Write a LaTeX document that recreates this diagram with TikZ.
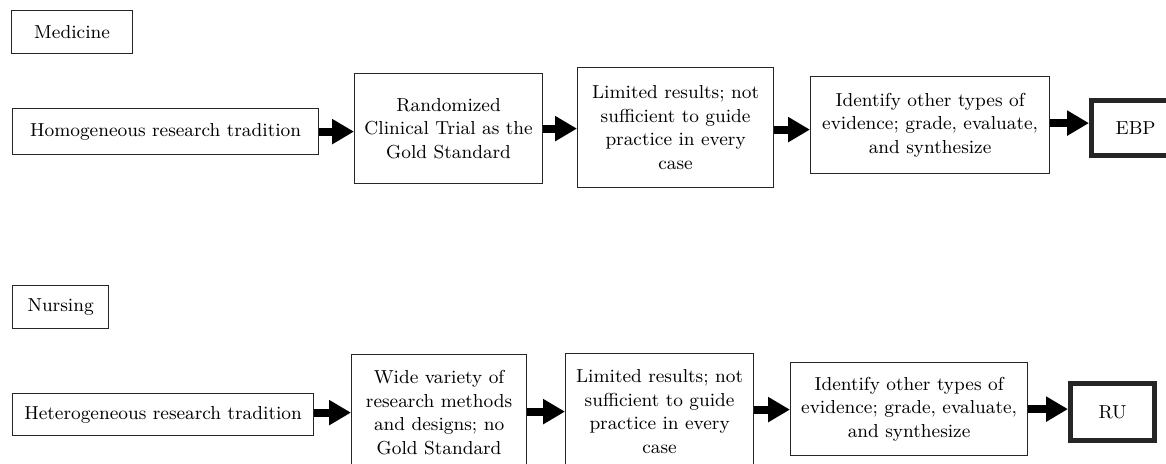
\documentclass[tikz,border=0pt]{standalone}
\usetikzlibrary{positioning,arrows.meta}

\begin{document}
\begin{tikzpicture}[
	x=0.5pt, y=-0.5pt,
	font=\fontsize{9.4}{11.75}\selectfont,
	box/.style={draw=black!85, line width=0.6pt, align=center,
		inner sep=1pt, anchor=north west},
	tag/.style={box},
	goal/.style={box, line width=2.6pt},
	flow/.style={-{Triangle[length=11pt, width=12pt]}, line width=4pt},
]
\useasboundingbox (0,0) rectangle (1166,463);

% ---- medicine row ----
\node[tag, minimum width=60.5pt, minimum height=21.5pt] (med) at (11,10) {Medicine};
\node[box, minimum width=153pt, minimum height=23pt] (hom) at (12,108)
	{Homogeneous research tradition};
\node[box, minimum width=94pt, minimum height=55pt] (rct) at (354,73)
	{Randomized\\ Clinical Trial as the\\ Gold Standard};
\node[box, minimum width=98pt, minimum height=60pt] (lim1) at (577,67)
	{Limited results; not\\ sufficient to guide\\ practice in every\\ case};
\node[box, minimum width=119.5pt, minimum height=48.5pt] (idf1) at (810,76)
	{Identify other types of\\ evidence; grade, evaluate,\\ and synthesize};
\node[goal, minimum width=44pt, minimum height=27.5pt] (ebp) at (1089,98) {EBP};

\draw[flow] (hom.east)  -- (hom.east -| rct.west);
\draw[flow] (rct.east)  -- (rct.east -| lim1.west);
\draw[flow] ([yshift=-1pt]lim1.east) -- ([yshift=-1pt]lim1.east -| idf1.west);
\draw[flow] ([yshift=1pt]idf1.east) -- ([yshift=1pt]idf1.east -| ebp.west);

% ---- nursing row ----
\node[tag, minimum width=48pt, minimum height=21.5pt] (nur) at (12,285) {Nursing};
\node[box, minimum width=150.5pt, minimum height=21pt] (het) at (12,393)
	{Heterogeneous research tradition};
\node[box, minimum width=87.5pt, minimum height=58pt] (wid) at (351,354)
	{Wide variety of\\ research methods\\ and designs; no\\ Gold Standard};
\node[box, minimum width=94pt, minimum height=58pt] (lim2) at (565,353)
	{Limited results; not\\ sufficient to guide\\ practice in every\\ case};
\node[box, minimum width=118.5pt, minimum height=46.5pt] (idf2) at (790,362)
	{Identify other types of\\ evidence; grade, evaluate,\\ and synthesize};
\node[goal, minimum width=42pt, minimum height=28.5pt] (ru) at (1068,381) {RU};

\draw[flow] ([yshift=1pt]het.east) -- ([yshift=1pt]het.east -| wid.west);
\draw[flow] ([yshift=0.5pt]wid.east) -- ([yshift=0.5pt]wid.east -| lim2.west);
\draw[flow] ([yshift=1pt]lim2.east) -- ([yshift=1pt]lim2.east -| idf2.west);
\draw[flow] (idf2.east) -- (idf2.east -| ru.west);

\end{tikzpicture}
\end{document}
